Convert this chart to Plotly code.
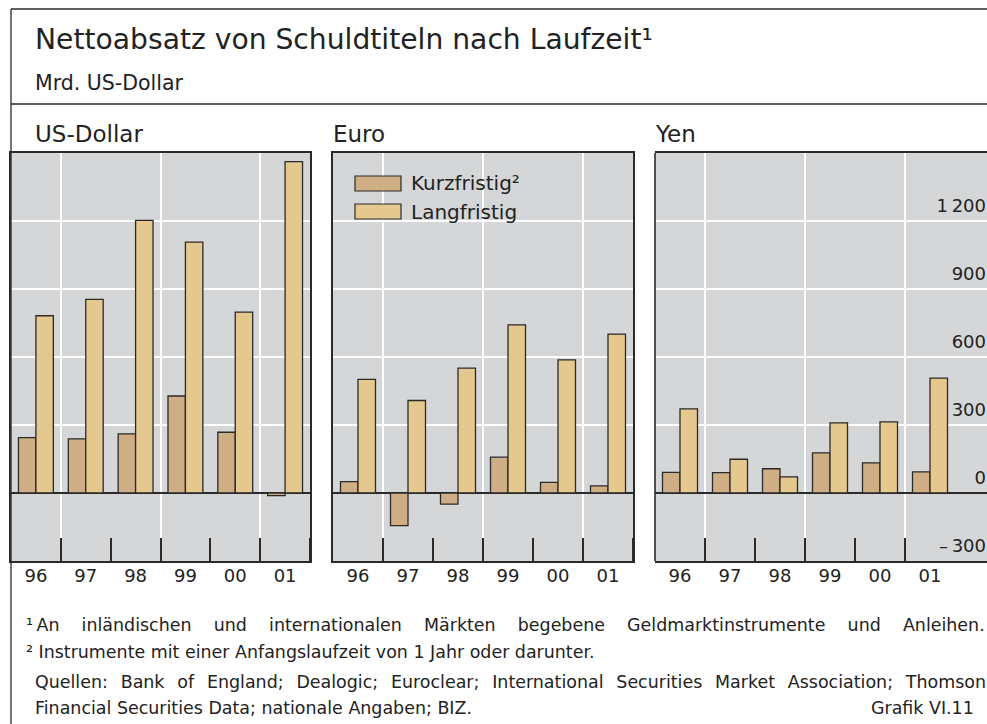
import plotly.graph_objects as go

# ---------------- data ----------------
years = ["96", "97", "98", "99", "00", "01"]
panel_titles = ["US-Dollar", "Euro", "Yen"]
series_names = ["Kurzfristig²", "Langfristig"]

usd_short = [244, 239, 261, 428, 268, -12]
usd_long = [782, 854, 1203, 1107, 798, 1462]
eur_short = [50, -144, -49, 158, 47, 31]
eur_long = [501, 408, 551, 742, 587, 701]
jpy_short = [91, 90, 107, 177, 133, 93]
jpy_long = [371, 149, 71, 309, 314, 507]

y_tickvals = [-300, 0, 300, 600, 900, 1200]
y_ticktext = ["\u2013\u2009300", "0", "300", "600", "900", "1\u2009200"]

title_text = "Nettoabsatz von Schuldtiteln nach Laufzeit¹"
subtitle_text = "Mrd. US-Dollar"
foot1_words = ["An", "inländischen", "und", "internationalen", "Märkten", "begebene",
               "Geldmarktinstrumente", "und", "Anleihen."]
foot2_text = "² Instrumente mit einer Anfangslaufzeit von 1 Jahr oder darunter."
foot3_words = ["Quellen:", "Bank", "of", "England;", "Dealogic;", "Euroclear;", "International",
               "Securities", "Market", "Association;", "Thomson"]
foot4_text = "Financial Securities Data; nationale Angaben; BIZ."
grafik_text = "Grafik VI.11"

# ---------------- style ----------------
W, H = 987, 724
FONT = "DejaVu Sans"
DARK = "#2a2a2a"
TXT = "#222222"
BG = "#d5d6d8"
C_SHORT = "#cfae85"
C_LONG = "#e5c88d"

def px(x):
    return x / W

def py(y):
    return 1 - y / H

x_pos = list(range(len(years)))
bounds = [i + 0.5 for i in x_pos]
grid_bounds = [0.5, 2.5, 4.5]

panels = [
    (usd_short, usd_long, (11, 310), [-0.5, 5.5]),
    (eur_short, eur_long, (333, 633), [-0.5, 5.5]),
    (jpy_short, jpy_long, (655, W), [-0.5, -0.5 + (W - 655) / 50.0]),
]
ydom = [py(561), py(153)]

fig = go.Figure()
layout = dict(
    width=W, height=H, autosize=False,
    margin=dict(l=0, r=0, t=0, b=0),
    paper_bgcolor="white",
    plot_bgcolor=BG,
    barmode="group",
    bargap=0.3,
    bargroupgap=0,
    showlegend=False,
    font=dict(family=FONT, color=TXT),
)

for i, (s, l, (x0, x1), xr) in enumerate(panels):
    n = i + 1
    xa = "x" if n == 1 else f"x{n}"
    ya = "y" if n == 1 else f"y{n}"
    fig.add_trace(go.Bar(x=x_pos, y=s, name=series_names[0], xaxis=xa, yaxis=ya,
                         marker=dict(color=C_SHORT, line=dict(color=DARK, width=1.3))))
    fig.add_trace(go.Bar(x=x_pos, y=l, name=series_names[1], xaxis=xa, yaxis=ya,
                         marker=dict(color=C_LONG, line=dict(color=DARK, width=1.3))))
    # overlay axis carrying the vertical gridlines
    ox = f"x{n + 3}"
    fig.add_trace(go.Scatter(x=[None], y=[None], xaxis=ox, yaxis=ya, showlegend=False,
                             hoverinfo="skip"))
    layout[f"xaxis{'' if n == 1 else n}"] = dict(
        domain=[px(x0), px(x1)], range=xr, anchor=ya,
        tickmode="array", tickvals=x_pos, ticktext=years,
        ticks="", showgrid=False, zeroline=False,
        showline=True, mirror=True, linecolor=DARK, linewidth=1.6,
        tickfont=dict(size=18, color=TXT, family=FONT),
        ticklabelstandoff=-2,
        minor=dict(tickmode="array", tickvals=bounds, ticks="inside", ticklen=23,
                   tickwidth=1.5, tickcolor=DARK, showgrid=False),
        fixedrange=True,
    )
    layout[f"xaxis{n + 3}"] = dict(
        overlaying=xa, range=xr, anchor=ya,
        tickmode="array", tickvals=grid_bounds, showticklabels=False, ticks="",
        showgrid=True, gridcolor="white", gridwidth=1.5, zeroline=False, showline=False,
    )
    yax = dict(
        domain=ydom, range=[-300, 1500], anchor=xa,
        tickmode="array", tickvals=y_tickvals,
        showgrid=True, gridcolor="white", gridwidth=1.5,
        zeroline=True, zerolinecolor=DARK, zerolinewidth=1.5,
        ticks="", fixedrange=True,
    )
    if n < 3:
        yax.update(showticklabels=False, showline=True, mirror=True,
                   linecolor=DARK, linewidth=1.6)
    else:
        yax.update(side="right", ticktext=y_ticktext, showticklabels=True,
                   ticklabelposition="inside", ticklabelshift=-15, ticklabelstandoff=-2,
                   tickfont=dict(size=18, color=TXT, family=FONT), showline=False)
    layout[f"yaxis{'' if n == 1 else n}"] = yax

fig.update_layout(**layout)

shapes = []
line_style = dict(color=DARK, width=1.3)
# outer frame / divider
shapes.append(dict(type="line", xref="paper", yref="paper", x0=px(11), x1=1, y0=py(9), y1=py(9), line=line_style))
shapes.append(dict(type="line", xref="paper", yref="paper", x0=px(11), x1=px(11), y0=0, y1=py(9), line=line_style))
shapes.append(dict(type="line", xref="paper", yref="paper", x0=px(11), x1=1, y0=py(104), y1=py(104), line=line_style))
# left frame of the Yen panel
shapes.append(dict(type="line", xref="x3 domain", yref="y3 domain", x0=0, x1=0, y0=0, y1=1,
                   line=dict(color=DARK, width=1.6)))
# legend swatches
for (top, col) in [(176, C_SHORT), (204, C_LONG)]:
    shapes.append(dict(type="rect", xref="paper", yref="paper", x0=px(355), x1=px(401),
                       y0=py(top + 15), y1=py(top), fillcolor=col, line=dict(color=DARK, width=1.2)))

annotations = []
def add_text(text, x, y, size, xanchor="left"):
    annotations.append(dict(text=text, x=px(x), y=py(y), xref="paper", yref="paper",
                            xanchor=xanchor, yanchor="middle", showarrow=False,
                            font=dict(family=FONT, size=size, color=TXT)))

add_text(title_text, 33, 40, 28.2)
add_text(subtitle_text, 33, 83, 20.5)
for t, x in zip(panel_titles, [33, 331, 653]):
    add_text(t, x, 134, 23)
add_text(series_names[0], 409, 183, 20)
add_text(series_names[1], 409, 212, 20)

gap1 = "\u00a0" * 4
gap3 = "\u00a0" * 2 + "\u200a"
add_text("¹\u2009" + gap1.join(foot1_words), 24, 625, 17.45)
add_text(foot2_text, 24, 652, 17.45)
add_text(gap3.join(foot3_words), 33, 682, 17.45)
add_text(foot4_text, 33, 708, 17.45)
add_text(grafik_text, 976, 708, 17.45, xanchor="right")

fig.update_layout(shapes=shapes, annotations=annotations)
fig.write_html(
    "out.html",
    config={"responsive": False, "displayModeBar": False},
    post_script="document.body.style.margin='0';document.documentElement.style.overflow='hidden';",
)
